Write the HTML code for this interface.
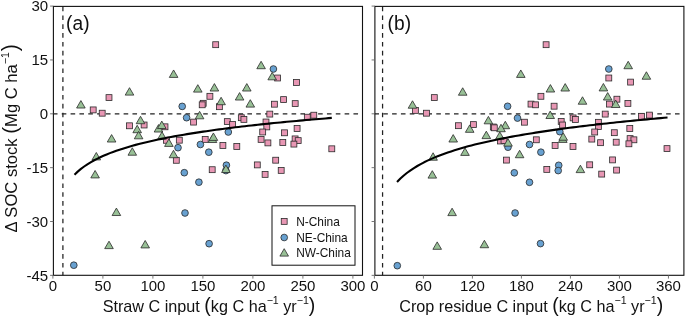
<!DOCTYPE html>
<html><head><meta charset="utf-8"><style>
html,body{margin:0;padding:0;background:#fff;width:685px;height:317px;overflow:hidden}
svg{display:block;will-change:transform}
text{font-family:"Liberation Sans", sans-serif;fill:#111}
</style></head><body>
<svg width="685" height="317" viewBox="0 0 685 317">
<rect width="685" height="317" fill="#fff"/>
<line x1="62.90" y1="6.6" x2="62.90" y2="275.3" stroke="#222" stroke-width="1.25" stroke-dasharray="4.6 4.24"/>
<line x1="52.90" y1="113.80" x2="362.5" y2="113.80" stroke="#222" stroke-width="1.25" stroke-dasharray="4.6 4.24"/>
<g fill="#E897B4" stroke="#2a2a2a" stroke-width="0.8"><rect x="90.25" y="106.95" width="5.90" height="5.90"/><rect x="99.25" y="110.25" width="5.90" height="5.90"/><rect x="106.05" y="94.65" width="5.90" height="5.90"/><rect x="126.55" y="122.85" width="5.90" height="5.90"/><rect x="141.15" y="122.05" width="5.90" height="5.90"/><rect x="162.05" y="123.85" width="5.90" height="5.90"/><rect x="163.45" y="137.35" width="5.90" height="5.90"/><rect x="176.35" y="137.25" width="5.90" height="5.90"/><rect x="173.35" y="157.35" width="5.90" height="5.90"/><rect x="190.65" y="119.15" width="5.90" height="5.90"/><rect x="212.75" y="41.75" width="5.90" height="5.90"/><rect x="206.95" y="93.35" width="5.90" height="5.90"/><rect x="200.25" y="100.35" width="5.90" height="5.90"/><rect x="199.25" y="101.85" width="5.90" height="5.90"/><rect x="216.45" y="103.75" width="5.90" height="5.90"/><rect x="224.35" y="118.65" width="5.90" height="5.90"/><rect x="229.65" y="121.55" width="5.90" height="5.90"/><rect x="238.35" y="114.75" width="5.90" height="5.90"/><rect x="240.95" y="116.45" width="5.90" height="5.90"/><rect x="202.25" y="136.45" width="5.90" height="5.90"/><rect x="219.95" y="142.55" width="5.90" height="5.90"/><rect x="233.85" y="143.55" width="5.90" height="5.90"/><rect x="209.25" y="166.75" width="5.90" height="5.90"/><rect x="274.65" y="75.05" width="5.90" height="5.90"/><rect x="293.55" y="79.55" width="5.90" height="5.90"/><rect x="280.65" y="96.65" width="5.90" height="5.90"/><rect x="271.45" y="101.25" width="5.90" height="5.90"/><rect x="292.25" y="100.65" width="5.90" height="5.90"/><rect x="266.85" y="111.15" width="5.90" height="5.90"/><rect x="263.05" y="119.05" width="5.90" height="5.90"/><rect x="263.85" y="123.95" width="5.90" height="5.90"/><rect x="259.75" y="129.05" width="5.90" height="5.90"/><rect x="281.55" y="129.85" width="5.90" height="5.90"/><rect x="294.15" y="125.55" width="5.90" height="5.90"/><rect x="258.15" y="136.45" width="5.90" height="5.90"/><rect x="264.95" y="139.95" width="5.90" height="5.90"/><rect x="279.85" y="139.55" width="5.90" height="5.90"/><rect x="292.15" y="135.95" width="5.90" height="5.90"/><rect x="295.25" y="137.65" width="5.90" height="5.90"/><rect x="290.95" y="141.15" width="5.90" height="5.90"/><rect x="328.85" y="145.85" width="5.90" height="5.90"/><rect x="272.75" y="157.25" width="5.90" height="5.90"/><rect x="254.35" y="161.95" width="5.90" height="5.90"/><rect x="278.25" y="167.45" width="5.90" height="5.90"/><rect x="262.15" y="171.45" width="5.90" height="5.90"/><rect x="304.35" y="114.25" width="5.90" height="5.90"/><rect x="310.85" y="112.25" width="5.90" height="5.90"/></g>
<g fill="#68A1D1" stroke="#2a2a2a" stroke-width="0.8"><circle cx="73.80" cy="265.20" r="3.35"/><circle cx="182.20" cy="106.40" r="3.35"/><circle cx="186.60" cy="117.70" r="3.35"/><circle cx="178.00" cy="147.70" r="3.35"/><circle cx="200.40" cy="144.50" r="3.35"/><circle cx="208.80" cy="152.20" r="3.35"/><circle cx="228.30" cy="132.00" r="3.35"/><circle cx="184.30" cy="172.70" r="3.35"/><circle cx="198.90" cy="182.20" r="3.35"/><circle cx="226.40" cy="165.20" r="3.35"/><circle cx="225.90" cy="170.60" r="3.35"/><circle cx="185.00" cy="213.00" r="3.35"/><circle cx="209.10" cy="243.70" r="3.35"/><circle cx="273.40" cy="69.00" r="3.35"/></g>
<g fill="#98C096" stroke="#2a2a2a" stroke-width="0.8" stroke-linejoin="miter"><path d="M80.90 100.58L85.20 108.02L76.60 108.02Z"/><path d="M129.50 87.68L133.80 95.12L125.20 95.12Z"/><path d="M140.50 116.28L144.80 123.72L136.20 123.72Z"/><path d="M137.20 125.28L141.50 132.72L132.90 132.72Z"/><path d="M138.60 131.38L142.90 138.82L134.30 138.82Z"/><path d="M111.60 134.58L115.90 142.03L107.30 142.03Z"/><path d="M132.30 147.78L136.60 155.22L128.00 155.22Z"/><path d="M96.30 152.47L100.60 159.92L92.00 159.92Z"/><path d="M95.10 170.47L99.40 177.92L90.80 177.92Z"/><path d="M116.40 208.08L120.70 215.53L112.10 215.53Z"/><path d="M109.00 241.18L113.30 248.62L104.70 248.62Z"/><path d="M145.20 240.47L149.50 247.92L140.90 247.92Z"/><path d="M158.50 124.58L162.80 132.03L154.20 132.03Z"/><path d="M161.80 121.08L166.10 128.53L157.50 128.53Z"/><path d="M162.00 131.78L166.30 139.22L157.70 139.22Z"/><path d="M168.90 138.97L173.20 146.42L164.60 146.42Z"/><path d="M173.50 150.28L177.80 157.72L169.20 157.72Z"/><path d="M173.60 69.98L177.90 77.42L169.30 77.42Z"/><path d="M197.80 84.68L202.10 92.12L193.50 92.12Z"/><path d="M214.40 83.58L218.70 91.02L210.10 91.02Z"/><path d="M246.80 83.58L251.10 91.02L242.50 91.02Z"/><path d="M239.60 92.58L243.90 100.02L235.30 100.02Z"/><path d="M221.10 97.28L225.40 104.72L216.80 104.72Z"/><path d="M199.60 111.38L203.90 118.82L195.30 118.82Z"/><path d="M250.30 99.68L254.60 107.12L246.00 107.12Z"/><path d="M212.50 135.08L216.80 142.53L208.20 142.53Z"/><path d="M213.40 132.97L217.70 140.42L209.10 140.42Z"/><path d="M225.90 165.08L230.20 172.53L221.60 172.53Z"/><path d="M261.10 61.27L265.40 68.72L256.80 68.72Z"/><path d="M272.20 72.38L276.50 79.82L267.90 79.82Z"/></g>
<polyline points="74.50,174.72 77.72,171.63 80.93,168.92 84.15,166.50 87.37,164.32 90.58,162.34 93.80,160.52 97.01,158.84 100.23,157.28 103.45,155.81 106.66,154.44 109.88,153.15 113.09,151.93 116.31,150.78 119.53,149.68 122.74,148.63 125.96,147.63 129.18,146.68 132.39,145.76 135.61,144.88 138.82,144.03 142.04,143.22 145.26,142.43 148.47,141.67 151.69,140.94 154.91,140.23 158.12,139.54 161.34,138.87 164.56,138.22 167.77,137.59 170.99,136.98 174.20,136.38 177.42,135.80 180.64,135.24 183.85,134.69 187.07,134.15 190.29,133.62 193.50,133.11 196.72,132.61 199.93,132.12 203.15,131.64 206.37,131.17 209.58,130.71 212.80,130.26 216.02,129.81 219.23,129.38 222.45,128.96 225.66,128.54 228.88,128.13 232.10,127.73 235.31,127.33 238.53,126.95 241.75,126.56 244.96,126.19 248.18,125.82 251.39,125.46 254.61,125.10 257.83,124.75 261.04,124.41 264.26,124.07 267.48,123.73 270.69,123.40 273.91,123.08 277.12,122.76 280.34,122.44 283.56,122.13 286.77,121.82 289.99,121.52 293.21,121.22 296.42,120.93 299.64,120.63 302.85,120.35 306.07,120.06 309.29,119.78 312.50,119.51 315.72,119.23 318.94,118.96 322.15,118.70 325.37,118.43 328.58,118.17 331.80,117.92" fill="none" stroke="#000" stroke-width="2.1" stroke-linecap="butt" stroke-linejoin="round"/>
<rect x="53.4" y="6.4" width="309.1" height="268.90000000000003" fill="none" stroke="#111" stroke-width="1.1"/>
<line x1="50.10" y1="6.10" x2="53.4" y2="6.10" stroke="#666" stroke-width="0.9"/>
<text x="48.20" y="11.40" font-size="15" text-anchor="end">30</text>
<line x1="50.10" y1="59.95" x2="53.4" y2="59.95" stroke="#666" stroke-width="0.9"/>
<text x="48.20" y="65.25" font-size="15" text-anchor="end">15</text>
<line x1="50.10" y1="113.80" x2="53.4" y2="113.80" stroke="#666" stroke-width="0.9"/>
<text x="48.20" y="119.10" font-size="15" text-anchor="end">0</text>
<line x1="50.10" y1="167.65" x2="53.4" y2="167.65" stroke="#666" stroke-width="0.9"/>
<text x="48.20" y="172.95" font-size="15" text-anchor="end">-15</text>
<line x1="50.10" y1="221.50" x2="53.4" y2="221.50" stroke="#666" stroke-width="0.9"/>
<text x="48.20" y="226.80" font-size="15" text-anchor="end">-30</text>
<line x1="50.10" y1="275.35" x2="53.4" y2="275.35" stroke="#666" stroke-width="0.9"/>
<text x="48.20" y="280.65" font-size="15" text-anchor="end">-45</text>
<line x1="52.90" y1="275.3" x2="52.90" y2="278.60" stroke="#666" stroke-width="0.9"/>
<text x="52.90" y="290.80" font-size="15" text-anchor="middle">0</text>
<line x1="102.90" y1="275.3" x2="102.90" y2="278.60" stroke="#666" stroke-width="0.9"/>
<text x="102.90" y="290.80" font-size="15" text-anchor="middle">50</text>
<line x1="152.90" y1="275.3" x2="152.90" y2="278.60" stroke="#666" stroke-width="0.9"/>
<text x="152.90" y="290.80" font-size="15" text-anchor="middle">100</text>
<line x1="202.90" y1="275.3" x2="202.90" y2="278.60" stroke="#666" stroke-width="0.9"/>
<text x="202.90" y="290.80" font-size="15" text-anchor="middle">150</text>
<line x1="252.90" y1="275.3" x2="252.90" y2="278.60" stroke="#666" stroke-width="0.9"/>
<text x="252.90" y="290.80" font-size="15" text-anchor="middle">200</text>
<line x1="302.90" y1="275.3" x2="302.90" y2="278.60" stroke="#666" stroke-width="0.9"/>
<text x="302.90" y="290.80" font-size="15" text-anchor="middle">250</text>
<line x1="352.90" y1="275.3" x2="352.90" y2="278.60" stroke="#666" stroke-width="0.9"/>
<text x="352.90" y="290.80" font-size="15" text-anchor="middle">300</text>
<text transform="translate(66.10,29.7) scale(0.96,1.04)" font-size="20">(a)</text>
<text x="209.00" y="311.6" font-size="16.2" text-anchor="middle">Straw C input <tspan font-size="19.5" dy="0.4">(</tspan><tspan dy="-0.4">kg C ha</tspan><tspan font-size="10.6" dy="-7.6">−1</tspan><tspan dy="7.6"> yr</tspan><tspan font-size="10.6" dy="-7.6">−1</tspan><tspan dy="8.0" font-size="19.5">)</tspan></text>
<line x1="382.57" y1="6.6" x2="382.57" y2="275.3" stroke="#222" stroke-width="1.25" stroke-dasharray="4.6 4.24"/>
<line x1="374.40" y1="113.80" x2="683.9" y2="113.80" stroke="#222" stroke-width="1.25" stroke-dasharray="4.6 4.24"/>
<g fill="#E897B4" stroke="#2a2a2a" stroke-width="0.8"><rect x="412.45" y="107.45" width="5.90" height="5.90"/><rect x="423.55" y="110.25" width="5.90" height="5.90"/><rect x="431.35" y="94.65" width="5.90" height="5.90"/><rect x="455.45" y="122.75" width="5.90" height="5.90"/><rect x="470.45" y="121.65" width="5.90" height="5.90"/><rect x="490.35" y="124.05" width="5.90" height="5.90"/><rect x="491.35" y="124.85" width="5.90" height="5.90"/><rect x="497.55" y="138.05" width="5.90" height="5.90"/><rect x="501.05" y="137.65" width="5.90" height="5.90"/><rect x="503.45" y="157.15" width="5.90" height="5.90"/><rect x="521.45" y="119.25" width="5.90" height="5.90"/><rect x="543.15" y="41.75" width="5.90" height="5.90"/><rect x="537.95" y="93.35" width="5.90" height="5.90"/><rect x="528.05" y="101.15" width="5.90" height="5.90"/><rect x="532.65" y="101.85" width="5.90" height="5.90"/><rect x="551.15" y="103.25" width="5.90" height="5.90"/><rect x="558.25" y="118.45" width="5.90" height="5.90"/><rect x="559.65" y="122.05" width="5.90" height="5.90"/><rect x="570.15" y="114.95" width="5.90" height="5.90"/><rect x="572.45" y="116.55" width="5.90" height="5.90"/><rect x="533.35" y="136.85" width="5.90" height="5.90"/><rect x="552.15" y="142.55" width="5.90" height="5.90"/><rect x="570.05" y="143.55" width="5.90" height="5.90"/><rect x="543.85" y="166.45" width="5.90" height="5.90"/><rect x="605.85" y="75.05" width="5.90" height="5.90"/><rect x="627.65" y="79.15" width="5.90" height="5.90"/><rect x="613.95" y="96.25" width="5.90" height="5.90"/><rect x="606.55" y="101.15" width="5.90" height="5.90"/><rect x="624.95" y="100.45" width="5.90" height="5.90"/><rect x="602.25" y="111.15" width="5.90" height="5.90"/><rect x="595.45" y="119.35" width="5.90" height="5.90"/><rect x="595.45" y="123.65" width="5.90" height="5.90"/><rect x="591.75" y="129.05" width="5.90" height="5.90"/><rect x="611.35" y="129.75" width="5.90" height="5.90"/><rect x="626.85" y="125.55" width="5.90" height="5.90"/><rect x="588.85" y="136.15" width="5.90" height="5.90"/><rect x="597.65" y="139.75" width="5.90" height="5.90"/><rect x="613.25" y="139.25" width="5.90" height="5.90"/><rect x="627.15" y="135.65" width="5.90" height="5.90"/><rect x="630.95" y="136.85" width="5.90" height="5.90"/><rect x="625.95" y="140.85" width="5.90" height="5.90"/><rect x="664.05" y="145.65" width="5.90" height="5.90"/><rect x="609.65" y="156.95" width="5.90" height="5.90"/><rect x="586.75" y="161.85" width="5.90" height="5.90"/><rect x="613.65" y="167.15" width="5.90" height="5.90"/><rect x="598.75" y="171.15" width="5.90" height="5.90"/><rect x="638.55" y="113.35" width="5.90" height="5.90"/><rect x="646.45" y="112.15" width="5.90" height="5.90"/></g>
<g fill="#68A1D1" stroke="#2a2a2a" stroke-width="0.8"><circle cx="397.30" cy="265.70" r="3.35"/><circle cx="507.60" cy="106.30" r="3.35"/><circle cx="517.50" cy="118.10" r="3.35"/><circle cx="508.00" cy="147.20" r="3.35"/><circle cx="529.50" cy="144.50" r="3.35"/><circle cx="540.90" cy="152.20" r="3.35"/><circle cx="514.30" cy="172.80" r="3.35"/><circle cx="529.50" cy="182.30" r="3.35"/><circle cx="558.70" cy="165.30" r="3.35"/><circle cx="558.20" cy="170.60" r="3.35"/><circle cx="515.10" cy="213.00" r="3.35"/><circle cx="540.50" cy="243.60" r="3.35"/><circle cx="608.80" cy="69.00" r="3.35"/></g>
<g fill="#98C096" stroke="#2a2a2a" stroke-width="0.8" stroke-linejoin="miter"><path d="M412.50 100.78L416.80 108.22L408.20 108.22Z"/><path d="M462.70 87.78L467.00 95.22L458.40 95.22Z"/><path d="M469.70 124.88L474.00 132.32L465.40 132.32Z"/><path d="M453.20 134.58L457.50 142.03L448.90 142.03Z"/><path d="M465.00 147.97L469.30 155.42L460.70 155.42Z"/><path d="M433.10 152.78L437.40 160.22L428.80 160.22Z"/><path d="M432.30 170.68L436.60 178.12L428.00 178.12Z"/><path d="M452.10 208.18L456.40 215.62L447.80 215.62Z"/><path d="M437.20 241.88L441.50 249.32L432.90 249.32Z"/><path d="M484.40 240.28L488.70 247.72L480.10 247.72Z"/><path d="M520.80 69.98L525.10 77.42L516.50 77.42Z"/><path d="M488.40 116.38L492.70 123.82L484.10 123.82Z"/><path d="M505.30 121.28L509.60 128.72L501.00 128.72Z"/><path d="M501.00 124.28L505.30 131.72L496.70 131.72Z"/><path d="M486.30 131.18L490.60 138.62L482.00 138.62Z"/><path d="M499.80 131.88L504.10 139.32L495.50 139.32Z"/><path d="M508.00 138.68L512.30 146.12L503.70 146.12Z"/><path d="M519.60 150.28L523.90 157.72L515.30 157.72Z"/><path d="M550.40 84.58L554.70 92.02L546.10 92.02Z"/><path d="M565.20 83.58L569.50 91.02L560.90 91.02Z"/><path d="M582.50 96.78L586.80 104.22L578.20 104.22Z"/><path d="M550.20 111.08L554.50 118.52L545.90 118.52Z"/><path d="M562.80 134.97L567.10 142.42L558.50 142.42Z"/><path d="M563.20 132.78L567.50 140.22L558.90 140.22Z"/><path d="M580.40 165.18L584.70 172.62L576.10 172.62Z"/><path d="M628.20 61.27L632.50 68.72L623.90 68.72Z"/><path d="M646.40 71.78L650.70 79.22L642.10 79.22Z"/><path d="M603.40 83.48L607.70 90.92L599.10 90.92Z"/><path d="M607.70 92.58L612.00 100.02L603.40 100.02Z"/><path d="M615.70 100.08L620.00 107.52L611.40 107.52Z"/></g>
<g fill="#68A1D1" stroke="#2a2a2a" stroke-width="0.8"><circle cx="559.80" cy="131.70" r="3.35"/></g>
<polyline points="397.03,181.98 400.41,178.51 403.79,175.46 407.17,172.74 410.56,170.28 413.94,168.04 417.32,165.99 420.70,164.08 424.08,162.31 427.46,160.66 430.84,159.10 434.22,157.64 437.60,156.26 440.99,154.95 444.37,153.70 447.75,152.51 451.13,151.38 454.51,150.29 457.89,149.25 461.27,148.25 464.65,147.28 468.03,146.36 471.42,145.46 474.80,144.60 478.18,143.76 481.56,142.95 484.94,142.17 488.32,141.41 491.70,140.67 495.08,139.95 498.47,139.26 501.85,138.58 505.23,137.92 508.61,137.27 511.99,136.64 515.37,136.03 518.75,135.43 522.13,134.85 525.51,134.28 528.90,133.72 532.28,133.17 535.66,132.64 539.04,132.11 542.42,131.60 545.80,131.09 549.18,130.60 552.56,130.12 555.94,129.64 559.33,129.18 562.71,128.72 566.09,128.27 569.47,127.83 572.85,127.39 576.23,126.97 579.61,126.55 582.99,126.13 586.37,125.73 589.76,125.33 593.14,124.93 596.52,124.54 599.90,124.16 603.28,123.79 606.66,123.42 610.04,123.05 613.42,122.69 616.80,122.33 620.19,121.98 623.57,121.64 626.95,121.30 630.33,120.96 633.71,120.63 637.09,120.30 640.47,119.98 643.85,119.66 647.24,119.34 650.62,119.03 654.00,118.73 657.38,118.42 660.76,118.12 664.14,117.82 667.52,117.53" fill="none" stroke="#000" stroke-width="2.1" stroke-linecap="butt" stroke-linejoin="round"/>
<rect x="374.9" y="6.4" width="309.0" height="268.90000000000003" fill="none" stroke="#111" stroke-width="1.1"/>
<line x1="371.60" y1="6.10" x2="374.9" y2="6.10" stroke="#666" stroke-width="0.9"/>
<line x1="371.60" y1="59.95" x2="374.9" y2="59.95" stroke="#666" stroke-width="0.9"/>
<line x1="371.60" y1="113.80" x2="374.9" y2="113.80" stroke="#666" stroke-width="0.9"/>
<line x1="371.60" y1="167.65" x2="374.9" y2="167.65" stroke="#666" stroke-width="0.9"/>
<line x1="371.60" y1="221.50" x2="374.9" y2="221.50" stroke="#666" stroke-width="0.9"/>
<line x1="371.60" y1="275.35" x2="374.9" y2="275.35" stroke="#666" stroke-width="0.9"/>
<line x1="374.40" y1="275.3" x2="374.40" y2="278.60" stroke="#666" stroke-width="0.9"/>
<text x="374.40" y="290.80" font-size="15" text-anchor="middle">0</text>
<line x1="423.41" y1="275.3" x2="423.41" y2="278.60" stroke="#666" stroke-width="0.9"/>
<text x="423.41" y="290.80" font-size="15" text-anchor="middle">60</text>
<line x1="472.42" y1="275.3" x2="472.42" y2="278.60" stroke="#666" stroke-width="0.9"/>
<text x="472.42" y="290.80" font-size="15" text-anchor="middle">120</text>
<line x1="521.42" y1="275.3" x2="521.42" y2="278.60" stroke="#666" stroke-width="0.9"/>
<text x="521.42" y="290.80" font-size="15" text-anchor="middle">180</text>
<line x1="570.43" y1="275.3" x2="570.43" y2="278.60" stroke="#666" stroke-width="0.9"/>
<text x="570.43" y="290.80" font-size="15" text-anchor="middle">240</text>
<line x1="619.44" y1="275.3" x2="619.44" y2="278.60" stroke="#666" stroke-width="0.9"/>
<text x="619.44" y="290.80" font-size="15" text-anchor="middle">300</text>
<line x1="668.45" y1="275.3" x2="668.45" y2="278.60" stroke="#666" stroke-width="0.9"/>
<text x="668.45" y="290.80" font-size="15" text-anchor="middle">360</text>
<text transform="translate(387.60,29.7) scale(0.96,1.04)" font-size="20">(b)</text>
<text x="531.20" y="311.6" font-size="16.2" text-anchor="middle">Crop residue C input <tspan font-size="19.5" dy="0.4">(</tspan><tspan dy="-0.4">kg C ha</tspan><tspan font-size="10.6" dy="-7.6">−1</tspan><tspan dy="7.6"> yr</tspan><tspan font-size="10.6" dy="-7.6">−1</tspan><tspan dy="8.0" font-size="19.5">)</tspan></text>
<rect x="272.0" y="205.8" width="83.0" height="59.39999999999998" fill="#fff" stroke="#111" stroke-width="1"/>
<g fill="#E897B4" stroke="#2a2a2a" stroke-width="0.8"><rect x="281.25" y="218.45" width="5.90" height="5.90"/></g>
<g fill="#68A1D1" stroke="#2a2a2a" stroke-width="0.8"><circle cx="284.20" cy="237.50" r="3.35"/></g>
<g fill="#98C096" stroke="#2a2a2a" stroke-width="0.8"><path d="M284.20 248.68L288.50 256.12L279.90 256.12Z"/></g>
<text x="296.2" y="226.10" font-size="11.9">N-China</text>
<text x="296.2" y="241.60" font-size="11.9">NE-China</text>
<text x="296.2" y="257.10" font-size="11.9">NW-China</text>
<text transform="translate(16.6,138.3) rotate(-90)" font-size="16.6" text-anchor="middle">Δ SOC stock <tspan font-size="20.5">(</tspan>Mg C ha<tspan font-size="10.6" dy="-7.6">−1</tspan><tspan dy="7.9" dx="0.8" font-size="21.5">)</tspan></text>
</svg></body></html>
